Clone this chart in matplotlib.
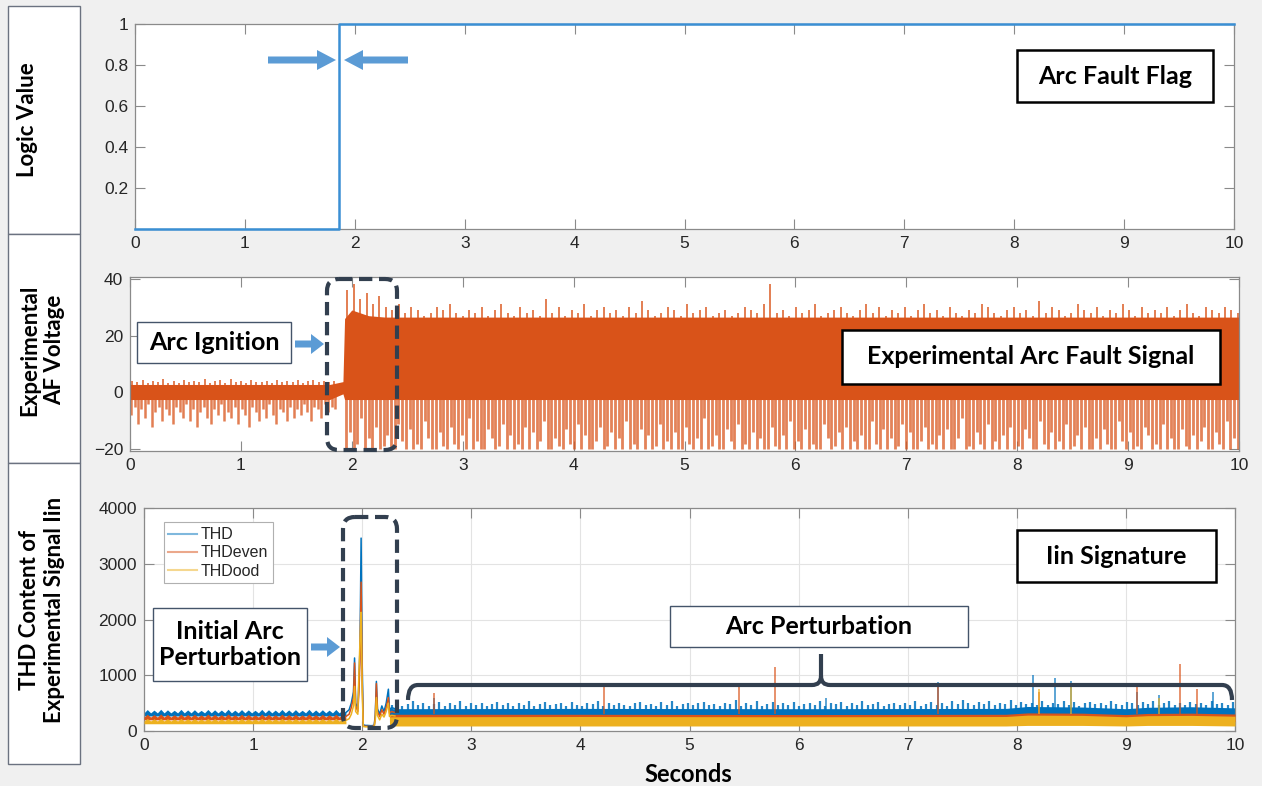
import numpy as np
import matplotlib
matplotlib.use("Agg")
import matplotlib.pyplot as plt
import matplotlib.transforms as mtransforms
from matplotlib.patches import Rectangle, FancyBboxPatch, FancyArrow, PathPatch
from matplotlib.path import Path
from matplotlib.lines import Line2D

# ---------------- data ----------------
x_ticks = [0, 1, 2, 3, 4, 5, 6, 7, 8, 9, 10]

# Arc fault flag
flag_t = [0, 1.86, 1.86, 10]
flag_v = [0, 0, 1, 1]
flag_yticks = [0.2, 0.4, 0.6, 0.8, 1.0]
flag_yticklabels = ["0.2", "0.4", "0.6", "0.8", "1"]

# Experimental AF voltage: solid band envelope
v_band_t = [0, 1.80, 1.92, 1.935, 2.00, 2.15, 2.30, 10]
v_band_hi = [2.8, 2.8, 3.8, 26, 29, 27, 26.5, 26.5]
v_band_lo = [-2.5, -2.5, -0.5, -2.5, -2.5, -2.5, -2.5, -2.5]
v_yticks = [-20, 0, 20, 40]

# upper fringe peaks (pre-ignition, post-ignition)
v_up_pre = [4, 3.5, 4.5, 3.2, 4, 3.6, 4.8, 3.4, 4.1, 3.3, 4.4, 3.7, 4, 3.5, 4.6, 3.2, 3.9, 4.2, 3.4, 4.7,
            3.6, 4, 3.3, 4.5, 3.8, 3.5, 4.1, 3.4, 4.3, 3.6, 4, 3.5, 4.2, 3.3, 3.9, 4.4, 3.6, 4, 3.7, 4.1]
v_up_post = [36, 38, 33, 35, 31, 34, 30, 29, 31, 28, 30, 29, 27, 28, 30, 29, 31, 28, 27, 29,
             28, 30, 27, 29, 31, 28, 27, 30, 28, 29, 27, 33, 28, 30, 27, 29, 28, 31, 27, 29,
             30, 28, 29, 27, 30, 28, 32, 29, 27, 28, 30, 29, 27, 31, 28, 29, 30, 27, 28, 29,
             27, 28, 30, 29, 28, 31, 38, 28, 29, 27, 30, 28, 29, 31, 27, 28, 29, 30, 28, 27,
             29, 31, 28, 30, 27, 29, 28, 30, 27, 29, 31, 28, 29, 27, 30, 28, 27, 29, 28, 31,
             30, 28, 27, 29, 30, 28, 29, 27, 32, 28, 30, 29, 27, 28, 31, 29, 28, 30, 27, 29,
             28, 31, 29, 27, 30, 28, 29, 28, 30, 27, 29, 31, 28, 27, 30, 29, 28, 30, 29, 28]
# downward excursions (pre-ignition, post-ignition)
v_dn_pre = [-8, -5, -11, -6, -9, -4, -12, -7, -5, -10, -6, -8, -11, -5, -7, -9, -4, -10, -6, -12,
            -7, -5, -9, -11, -6, -8, -4, -10, -7, -9, -5, -11, -6, -8, -12, -5, -7, -10, -6, -9,
            -4, -8, -11, -6, -7, -10, -5, -9, -6, -8, -4, -7, -10, -5, -6, -9, -4, -7, -5, -6]
v_dn_post = [-20, -14, -20, -18, -9, -20, -16, -20, -12, -20, -19, -15, -20, -20, -11, -17, -20, -13, -20, -18,
             -20, -10, -16, -20, -20, -14, -19, -20, -12, -18, -20, -15, -20, -9, -20, -17, -20, -20, -13, -16,
             -20, -19, -11, -20, -15, -20, -18, -20, -12, -20, -14, -20, -17, -10, -20, -20, -16, -19, -20, -13,
             -18, -20, -11, -20, -15, -20, -20, -17, -12, -20, -19, -14, -20, -16, -20, -10, -20, -18, -20, -13,
             -20, -15, -20, -19, -11, -20, -17, -20, -14, -20, -20, -12, -18, -20, -16, -20, -9, -20, -19, -15,
             -20, -20, -13, -17, -20, -11, -20, -18, -20, -14, -20, -16, -20, -20, -12, -19, -20, -15, -20, -10,
             -20, -17, -20, -13, -20, -18, -20, -20, -11, -16, -20, -19, -14, -20, -12, -20, -17, -20, -15, -20,
             -20, -10, -18, -20, -13, -20, -16, -20, -19, -11, -20, -14, -20, -20, -17, -12, -20, -18, -20, -15,
             -20, -13, -20, -20, -16, -9, -20, -19, -20, -14, -18, -20, -11, -20, -17, -20, -15, -20, -12, -20,
             -19, -20, -13, -16, -20, -20, -10, -18, -20, -14, -20, -17, -20, -11, -20, -19, -15, -20, -12, -20,
             -20, -16, -20, -13, -18, -20, -20, -10, -17, -20, -14, -20, -19, -20, -12, -15, -20, -18, -20, -11,
             -20, -16, -20, -20, -13, -19, -20, -15, -20, -17, -12, -20, -20, -14, -18, -20, -10, -20, -16, -20]

# THD content: pre-ignition ripple peaks
thd_pre_pk = [385, 375, 390, 380, 372, 388, 378, 382, 370, 386, 380, 376, 390, 374, 384,
              379, 372, 388, 381, 375, 386, 378, 383, 372, 389, 377, 381, 374, 386, 380]
thdeven_pre_pk = [300, 295, 305, 298, 292, 303, 296, 300, 290, 304, 298, 294, 306, 292, 301,
                  297, 290, 305, 299, 293, 303, 296, 300, 291, 305, 295, 299, 292, 303, 298]
thdodd_pre_pk = [225, 220, 228, 222, 218, 226, 221, 224, 216, 227, 222, 219, 229, 217, 225,
                 221, 216, 227, 223, 219, 226, 220, 224, 217, 228, 220, 223, 218, 226, 222]
thd_pre_trough, thdeven_pre_trough, thdodd_pre_trough = 325, 250, 180
thd_pre_lo, thdeven_pre_lo, thdodd_pre_lo = 270, 200, 130

# ignition transient
ig_t = [1.85, 1.88, 1.90, 1.92, 1.93, 1.94, 1.96, 1.97, 1.98, 1.99, 2.00, 2.01, 2.03, 2.05,
        2.08, 2.11, 2.12, 2.13, 2.14, 2.16, 2.18, 2.20, 2.22, 2.24, 2.25, 2.27, 2.30]
thd_ig = [330, 380, 500, 700, 1310, 500, 400, 900, 1500, 3460, 1200, 110, 100, 100,
          95, 100, 300, 890, 400, 300, 450, 350, 500, 750, 380, 420, 400]
thdeven_ig = [260, 300, 420, 600, 1220, 450, 350, 700, 1300, 2670, 900, 90, 85, 85,
              80, 90, 250, 850, 350, 260, 380, 300, 420, 600, 320, 350, 330]
thdodd_ig = [190, 220, 300, 450, 800, 350, 300, 1060, 1630, 2130, 700, 80, 75, 75,
             70, 80, 200, 600, 280, 200, 300, 250, 350, 500, 260, 280, 270]

# post-ignition bands
thd_band_t = [2.25, 4.0, 6.0, 7.9, 8.1, 8.6, 9.0, 9.2, 9.6, 10.0]
thd_band_hi = [400, 405, 400, 405, 440, 430, 400, 425, 435, 415]
thd_band_lo = [250, 250, 250, 250, 260, 260, 250, 260, 260, 250]
thdeven_band_hi = [300, 300, 295, 300, 325, 320, 295, 315, 320, 305]
thdeven_band_lo = [170, 170, 170, 170, 180, 180, 170, 180, 180, 170]
thdodd_band_hi = [255, 260, 255, 260, 285, 280, 255, 275, 280, 265]
thdodd_band_lo = [90, 90, 90, 90, 100, 100, 90, 100, 100, 90]

thd_fringe = [470, 520, 445, 490, 530, 460, 505, 440, 480, 515, 455, 500, 470, 535, 450, 495, 465, 510, 440, 485,
              525, 460, 495, 450, 505, 470, 540, 445, 490, 515, 460, 480, 500, 455, 520, 470, 445, 505, 485, 530,
              450, 495, 465, 510, 475, 440, 500, 525, 460, 490, 455, 515, 470, 545, 440, 485, 505, 460, 495, 520,
              465, 480, 450, 510, 490, 560, 455, 500, 470, 530, 445, 485, 515, 460, 500, 475, 525, 450, 490, 505,
              465, 540, 455, 495, 480, 515, 445, 505, 470, 530, 460, 490, 520, 450, 485, 510, 465, 500, 475, 535,
              455, 490, 520, 470, 505, 445, 530, 480, 560, 500, 470, 515, 490, 540, 465, 505, 480, 550, 470, 520,
              490, 510, 475, 545, 460, 500, 485, 530, 470, 515, 455, 495, 520, 480, 505, 465, 540, 490, 470, 525,
              500, 460, 515, 485, 530, 470, 505, 545, 475, 495, 460, 520, 490, 510, 470, 535, 480, 500, 465, 515]

thd_spk_t = [2.66, 6.25, 7.28, 8.15, 8.35, 8.50, 9.10, 9.30, 9.80]
thd_spk_v = [600, 600, 880, 1000, 950, 900, 700, 650, 700]
thdeven_spk_t = [2.66, 4.22, 5.45, 5.78, 7.28, 8.20, 9.10, 9.50, 9.65]
thdeven_spk_v = [680, 790, 790, 1150, 860, 700, 800, 1200, 750]
thdodd_spk_t = [8.20, 8.50, 9.30]
thdodd_spk_v = [750, 800, 600]

thd_yticks = [0, 1000, 2000, 3000, 4000]
legend_labels = ["THD", "THDeven", "THDood"]

# ---------------- style ----------------
C_BLUE = "#0072BD"
C_ORANGE = "#D95319"
C_YELLOW = "#EDB120"
C_FLAG = "#3a8fd4"
C_ARROW = "#5b9bd5"
C_NAVY = "#323f4f"
BOLD_FONT = ["Lato", "DejaVu Sans"]
TICK_FONT = ["Liberation Sans", "DejaVu Sans"]

W, H, DPI = 1262, 786, 100
fig = plt.figure(figsize=(W / DPI, H / DPI), dpi=DPI, facecolor="#f0f0f0")
pix = mtransforms.Affine2D().scale(1 / DPI, -1 / DPI).translate(0, H / DPI) + fig.dpi_scale_trans


def ax_at(x0, y0, x1, y1):
    return fig.add_axes([x0 / W, 1 - y1 / H, (x1 - x0) / W, (y1 - y0) / H])


def style_axes(ax):
    for s in ax.spines.values():
        s.set_color("#8a8a8a")
        s.set_linewidth(0.9)
    ax.tick_params(direction="in", top=True, right=True, length=7, width=0.8,
                   color="#8a8a8a", labelcolor="#262626", labelsize=12.5, pad=5)
    for lab in ax.get_xticklabels() + ax.get_yticklabels():
        lab.set_family(TICK_FONT)
    ax.set_facecolor("white")


# ---- left label boxes ----
for (y0, y1) in [(6, 234), (234, 463), (463, 764)]:
    fig.add_artist(Rectangle((8, y0), 72, y1 - y0, transform=pix, fc="white",
                             ec="#6b7280", lw=1.0, zorder=0.5))
fig.text(28, 120, "Logic Value", transform=pix, rotation=90, ha="center", va="center",
         fontsize=16, fontweight="bold", family=BOLD_FONT)
fig.text(42, 350, "Experimental\nAF Voltage", transform=pix, rotation=90, ha="center", va="center",
         fontsize=16, fontweight="bold", family=BOLD_FONT, linespacing=1.2)
fig.text(42, 610, "THD Content of\nExperimental Signal Iin", transform=pix, rotation=90,
         ha="center", va="center", fontsize=16, fontweight="bold", family=BOLD_FONT, linespacing=1.2)

# ---- top panel ----
ax1 = ax_at(135, 24, 1234, 229)
ax1.plot(flag_t, flag_v, color=C_FLAG, lw=1.8, clip_on=False, zorder=3)
ax1.set_xlim(0, 10)
ax1.set_ylim(0, 1)
ax1.set_xticks(x_ticks)
ax1.set_yticks(flag_yticks)
ax1.set_yticklabels(flag_yticklabels)
style_axes(ax1)

# ---- middle panel ----
ax2 = ax_at(130, 277, 1239, 451)
ax2.fill_between(v_band_t, v_band_lo, v_band_hi, color=C_ORANGE, lw=0, zorder=2)
x_up_pre = np.linspace(0.02, 1.84, len(v_up_pre))
x_up_post = np.linspace(1.96, 9.99, len(v_up_post))
x_dn_pre = np.linspace(0.01, 1.85, len(v_dn_pre))
x_dn_post = np.linspace(1.95, 9.99, len(v_dn_post))
ax2.vlines(x_up_pre, 2.5, v_up_pre, color=C_ORANGE, lw=1.3, alpha=0.8, zorder=2)
ax2.vlines(x_up_post, 25, v_up_post, color=C_ORANGE, lw=1.4, alpha=0.75, zorder=2)
ax2.vlines(x_dn_pre, v_dn_pre, -1, color=C_ORANGE, lw=1.8, alpha=0.75, zorder=2)
ax2.vlines(x_dn_post, v_dn_post, -1, color=C_ORANGE, lw=2.0, alpha=0.72, zorder=2)
ax2.set_xlim(0, 10)
ax2.set_ylim(-20.6, 40.6)
ax2.set_xticks(x_ticks)
ax2.set_yticks(v_yticks)
style_axes(ax2)

# ---- bottom panel ----
ax3 = ax_at(144, 508, 1235, 731)
ax3.grid(True, color="#e3e3e3", lw=0.8, zorder=0)
ax3.set_axisbelow(True)

t_pk = np.linspace(0.03, 1.82, len(thd_pre_pk))
half = (t_pk[1] - t_pk[0]) / 2
t_zz = np.empty(2 * len(t_pk) + 1)
t_zz[0] = 0
t_zz[1::2] = t_pk
t_zz[2::2] = t_pk + half


def zigzag(peaks, trough):
    out = np.empty(2 * len(peaks) + 1)
    out[0] = trough
    out[1::2] = peaks
    out[2::2] = trough
    return out


series = [
    (C_BLUE, thd_pre_pk, thd_pre_trough, thd_pre_lo, thd_ig, thd_band_hi, thd_band_lo, thd_spk_t, thd_spk_v, 2),
    (C_ORANGE, thdeven_pre_pk, thdeven_pre_trough, thdeven_pre_lo, thdeven_ig, thdeven_band_hi, thdeven_band_lo,
     thdeven_spk_t, thdeven_spk_v, 3),
    (C_YELLOW, thdodd_pre_pk, thdodd_pre_trough, thdodd_pre_lo, thdodd_ig, thdodd_band_hi, thdodd_band_lo,
     thdodd_spk_t, thdodd_spk_v, 4),
]
for (c, pk, tr, lo, ig, bhi, blo, st, sv, z) in series:
    ax3.fill_between(t_zz, lo, zigzag(pk, tr), color=c, lw=0, zorder=z)
    ax3.plot(ig_t, ig, color=c, lw=1.1, zorder=z)
    ax3.fill_between(thd_band_t, blo, bhi, color=c, lw=0, zorder=z)
    ax3.vlines(st, 300, sv, color=c, lw=1.2, alpha=0.75, zorder=z)
    if c == C_BLUE:
        ax3.vlines(np.linspace(2.27, 9.98, len(thd_fringe)), 380, thd_fringe,
                   color=c, lw=1.6, alpha=0.85, zorder=z)

ax3.set_xlim(0, 10)
ax3.set_ylim(0, 4000)
ax3.set_xticks(x_ticks)
ax3.set_yticks(thd_yticks)
style_axes(ax3)
handles = [Line2D([], [], color=c, lw=1.5, alpha=0.5) for c in (C_BLUE, C_ORANGE, C_YELLOW)]
leg = ax3.legend(handles, legend_labels, loc="upper left", bbox_to_anchor=(0.018, 0.935),
                 borderaxespad=0, fancybox=False, framealpha=1, edgecolor="#b0b0b0",
                 prop={"family": TICK_FONT, "size": 11.5}, handlelength=1.8,
                 handletextpad=0.2, borderpad=0.3, labelspacing=0.2)
leg.get_frame().set_linewidth(0.8)
for t in leg.get_texts():
    t.set_color("#262626")
fig.text(688, 774, "Seconds", transform=pix, ha="center", va="center",
         fontsize=17, fontweight="bold", family=BOLD_FONT)


# ---- annotations ----
def box(x0, y0, x1, y1, text, ec="black", lw=1.8, fs=18, ls=1.2):
    fig.add_artist(Rectangle((x0, y0), x1 - x0, y1 - y0, transform=pix, fc="white",
                             ec=ec, lw=lw, zorder=5))
    fig.text((x0 + x1) / 2, (y0 + y1) / 2, text, transform=pix, ha="center", va="center",
             fontsize=fs, fontweight="bold", family=BOLD_FONT, linespacing=ls, zorder=6)


box(1017, 50, 1213, 102, "Arc Fault Flag")
box(137, 322, 291, 363, "Arc Ignition", ec="#44546a", lw=1.0)
box(842, 330, 1220, 384, "Experimental Arc Fault Signal")
box(153, 608, 307, 681, "Initial Arc\nPerturbation", ec="#44546a", lw=1.0, ls=1.15)
box(670, 606, 968, 647, "Arc Perturbation", ec="#44546a", lw=1.0)
box(1017, 530, 1216, 582, "Iin Signature")


def arrow(x0, x1, y, hl):
    fig.add_artist(FancyArrow(x0, y, x1 - x0, 0, width=7, head_width=20, head_length=hl,
                              length_includes_head=True, transform=pix, color=C_ARROW,
                              lw=0, zorder=5))


arrow(268, 336, 60, 19)
arrow(408, 344, 60, 19)
arrow(295, 324, 344, 13)
arrow(311, 340, 647, 13)

for (x0, y0, x1, y1) in [(327, 279, 397, 450), (343, 517, 397, 728)]:
    fig.add_artist(FancyBboxPatch((x0, y0), x1 - x0, y1 - y0,
                                  boxstyle="round,pad=0,rounding_size=12", transform=pix,
                                  fc="none", ec=C_NAVY, lw=3, ls=(0, (3.2, 1.6)), zorder=5))

# curly bracket for "Arc Perturbation"
verts = [(408, 700), (408, 685), (418, 685), (812, 685), (821, 685), (821, 676), (821, 654),
         (821, 676), (821, 685), (830, 685), (1222, 685), (1232, 685), (1232, 700)]
codes = [Path.MOVETO, Path.CURVE3, Path.CURVE3, Path.LINETO, Path.CURVE3, Path.CURVE3, Path.LINETO,
         Path.MOVETO, Path.CURVE3, Path.CURVE3, Path.LINETO, Path.CURVE3, Path.CURVE3]
fig.add_artist(PathPatch(Path(verts, codes), transform=pix, fc="none", ec=C_NAVY, lw=3,
                         capstyle="butt", zorder=5))

fig.savefig("out.png", dpi=DPI, facecolor=fig.get_facecolor())
